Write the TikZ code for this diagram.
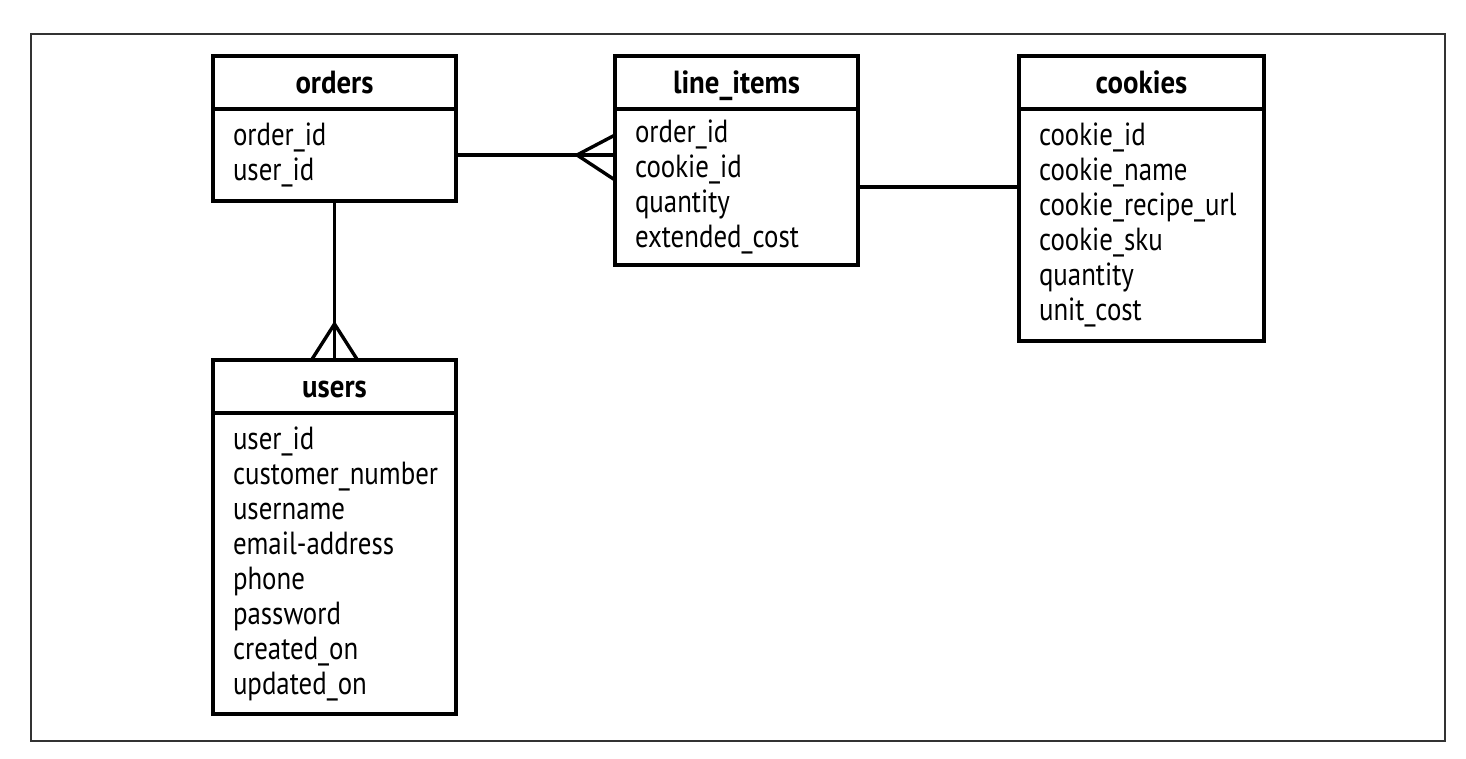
\documentclass[tikz,border=0pt]{standalone}
\usepackage{fontspec}
\setmainfont{PT Sans}[FakeStretch=0.84]
\newfontfamily\titlefont{PT Sans}[FakeStretch=0.9]
\usetikzlibrary{calc}
\tikzset{
  frame/.style={draw=black!80, line width=1.3pt},
  titlebox/.style={draw, line width=3.4pt, outer sep=0pt, inner sep=0pt, minimum width=243pt, minimum height=53pt, text height=25pt, text depth=4pt, anchor=north west, font=\titlefont\bfseries\fontsize{32}{35}\selectfont},
  bodybox/.style={draw, line width=3.4pt, outer sep=0pt, inner xsep=20pt, inner ysep=0pt, text width=203pt, align=left, anchor=north, font=\fontsize{32}{35}\selectfont},
  conn/.style={line width=3.4pt},
}
\begin{document}
\begin{tikzpicture}[x=1pt,y=-1pt]
\useasboundingbox (0,0) rectangle (1466,758);
\draw[frame] (31,34) rectangle (1445,741);

\node[titlebox] (orders) at (213,56) {orders};
\node[bodybox, minimum height=92pt] (ordersb) at (orders.south) {order\_id\\user\_id};

\node[titlebox] (lines) at (615,56) {line\_items};
\node[bodybox, minimum height=156pt] (linesb) at (lines.south) {order\_id\\cookie\_id\\quantity\\extended\_cost};

\node[titlebox, minimum width=245pt] (cookies) at (1019,56) {cookies};
\node[bodybox, text width=205pt, minimum height=232pt] (cookiesb) at (cookies.south) {cookie\_id\\cookie\_name\\cookie\_recipe\_url\\cookie\_sku\\quantity\\unit\_cost};

\node[titlebox] (users) at (213,360) {users};
\node[bodybox, minimum height=301pt] (usersb) at (users.south) {user\_id\\customer\_number\\username\\email-address\\phone\\password\\created\_on\\updated\_on};

% orders -- line_items (many)
\coordinate (li) at (linesb.west |- ordersb.east);
\draw[conn] (ordersb.east) -- (li);
\coordinate (cf1) at ($(li)+(-38,0)$);
\draw[conn] (li |- 0,135) -- (cf1) -- (li |- 0,180);

% line_items -- cookies
\draw[conn] (linesb.east) -- (cookiesb.west |- linesb.east);

% orders -- users (many)
\draw[conn] (ordersb.south) -- (users.north);
\coordinate (cf2) at ($(users.north)+(0,-36)$);
\draw[conn] ($(users.north)+(-23,0)$) -- (cf2) -- ($(users.north)+(23,0)$);
\end{tikzpicture}
\end{document}
